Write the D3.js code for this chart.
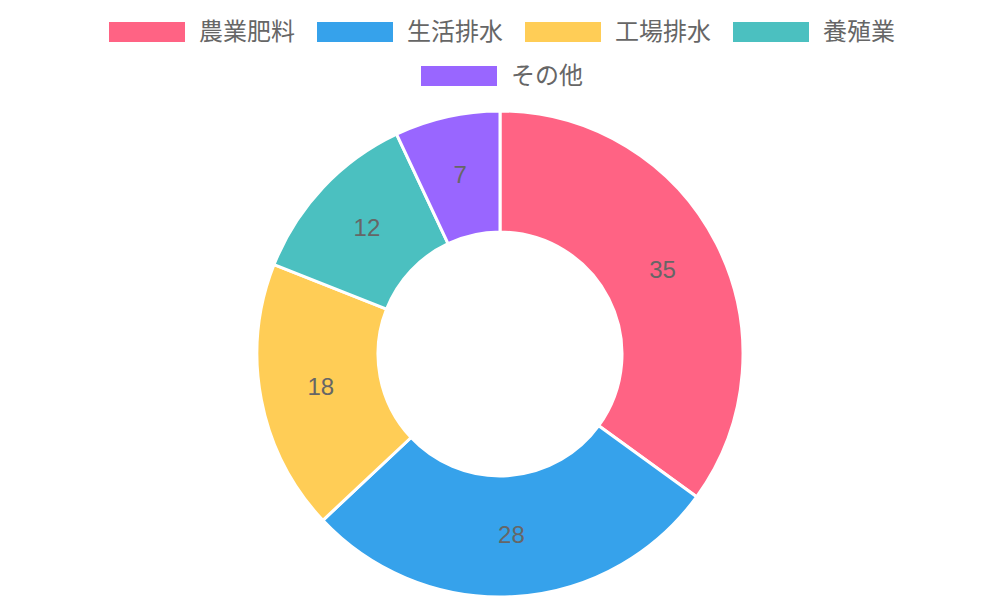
<!DOCTYPE html>
<html><head><meta charset="utf-8">
<script src="https://cdn.jsdelivr.net/npm/d3@7"></script>
<style>html,body{margin:0;padding:0;background:#fff;}svg{display:block;}</style>
</head><body>
<svg id="chart" width="1000" height="600"></svg>
<script>
const categories = ["農業肥料", "生活排水", "工場排水", "養殖業", "その他"];
const values = [35, 28, 18, 12, 7];
const colors = ["#FF6384", "#36A2EB", "#FFCD56", "#4BC0C0", "#9966FF"];

const svg = d3.select("#chart");
const W = 1000;
const font = "'Liberation Sans', Arial, 'Noto Sans CJK JP', sans-serif";

// Legend
const boxW = 76, boxH = 20, gap = 14, pad = 22, fs = 24;
const rows = [[0,1,2,3],[4]];
const rowY = [32, 76];
rows.forEach((row, ri) => {
  const widths = row.map(i => boxW + gap + categories[i].length * fs);
  const total = d3.sum(widths) + pad * (row.length - 1);
  let x = (W - total) / 2 + 2;
  row.forEach((i, k) => {
    const g = svg.append("g").attr("transform", `translate(${x},${rowY[ri]})`);
    g.append("rect").attr("x", 0).attr("y", -boxH/2).attr("width", boxW).attr("height", boxH).attr("fill", colors[i]);
    g.append("text").attr("x", boxW + gap).attr("y", 0).attr("dy", "0.35em")
      .attr("font-family", font).attr("font-size", fs).attr("fill", "#666").text(categories[i]);
    x += widths[k] + pad;
  });
});

// Doughnut
const cx = 500, cy = 354, rOuter = 243, rInner = 122;
const pie = d3.pie().sort(null).value(d => d)(values);
const arc = d3.arc().innerRadius(rInner).outerRadius(rOuter);
const g = svg.append("g").attr("transform", `translate(${cx},${cy})`);
g.selectAll("path").data(pie).join("path")
  .attr("d", arc).attr("fill", (d, i) => colors[i])
  .attr("stroke", "#fff").attr("stroke-width", 3).attr("stroke-linejoin", "round");
const labelArc = d3.arc().innerRadius((rInner + rOuter) / 2).outerRadius((rInner + rOuter) / 2);
g.selectAll("text.val").data(pie).join("text").attr("class", "val")
  .attr("transform", d => `translate(${labelArc.centroid(d)})`)
  .attr("text-anchor", "middle").attr("dy", "0.3em")
  .attr("font-family", font).attr("font-size", 24).attr("fill", "#666")
  .text(d => d.data);
</script>
</body></html>
